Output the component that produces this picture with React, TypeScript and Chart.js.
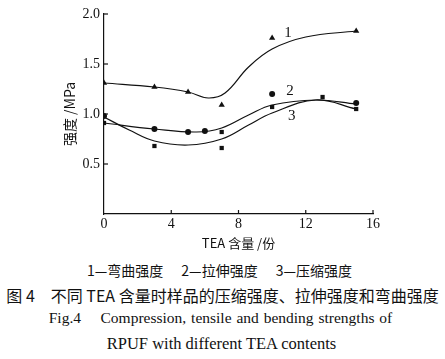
import React, { useEffect, useRef } from "react";
import { Chart, registerables } from "chart.js";

Chart.register(...registerables);

// Measured points (TEA content / strength MPa)
const bendX = [0, 3, 5, 7, 10, 15];
const bendY = [1.31, 1.27, 1.22, 1.09, 1.76, 1.83];
const tensileX = [0, 3, 5, 6, 10, 15];
const tensileY = [0.98, 0.85, 0.82, 0.83, 1.2, 1.11];
const compX = [0, 3, 7, 7, 10, 13, 15];
const compY = [0.91, 0.68, 0.82, 0.66, 1.07, 1.17, 1.05];

// Fitted curves
const fit1X = [0, 3, 5, 6.2, 7.2, 8.6, 10, 12, 15];
const fit1Y = [1.31, 1.27, 1.22, 1.16, 1.21, 1.47, 1.65, 1.77, 1.83];
const fit2X = [0, 3, 5.5, 7, 8.6, 10, 12.6, 15];
const fit2Y = [0.91, 0.85, 0.82, 0.86, 0.99, 1.09, 1.14, 1.1];
const fit3X = [0, 1.5, 3, 5, 7, 8.6, 10, 12.6, 15];
const fit3Y = [0.97, 0.84, 0.73, 0.69, 0.75, 0.89, 1.01, 1.14, 1.05];

const curveLabels = ["1", "2", "3"];
const curveLabelX = [10.95, 11.07, 11.17];
const curveLabelY = [1.81, 1.23, 0.98];

const xTicks = [0, 4, 8, 12, 16];
const yTicks = [0.5, 1.0, 1.5, 2.0];

const xTitle = "TEA 含量 /份";
const yTitle = "强度 /MPa";

const legendItems = ["1—弯曲强度", "2—拉伸强度", "3—压缩强度"];
const captionCn = "图 4　不同 TEA 含量时样品的压缩强度、拉伸强度和弯曲强度";
const captionEn1 = "Fig.4    Compression, tensile and bending strengths of";
const captionEn2 = "RPUF with different TEA contents";

const W = 445;
const CH = 255;
const INK = "#111";
const SERIF = "'Liberation Serif', 'DejaVu Serif', serif";
const CJK = "'Noto Sans CJK SC', 'Noto Sans', sans-serif";

const pts = (xs: number[], ys: number[]) => xs.map((x, i) => ({ x, y: ys[i] }));

export default function App() {
  const ref = useRef<HTMLCanvasElement | null>(null);

  useEffect(() => {
    if (!ref.current) return;

    const decorations = {
      id: "decorations",
      afterDraw(chart: any) {
        const { ctx, chartArea } = chart;
        const xs = chart.scales.x;
        const ys = chart.scales.y;
        ctx.save();
        ctx.strokeStyle = INK;
        ctx.lineWidth = 1.2;
        xTicks.forEach((v) => {
          if (v === 0) return;
          const px = xs.getPixelForValue(v);
          ctx.beginPath();
          ctx.moveTo(px, chartArea.bottom);
          ctx.lineTo(px, chartArea.bottom - 4);
          ctx.stroke();
        });
        yTicks.forEach((v) => {
          const py = ys.getPixelForValue(v);
          ctx.beginPath();
          ctx.moveTo(chartArea.left, py);
          ctx.lineTo(chartArea.left + 4, py);
          ctx.stroke();
        });
        ctx.fillStyle = INK;
        ctx.font = `15px ${SERIF}`;
        ctx.textAlign = "center";
        ctx.textBaseline = "middle";
        curveLabels.forEach((t, i) => {
          ctx.fillText(t, xs.getPixelForValue(curveLabelX[i]), ys.getPixelForValue(curveLabelY[i]));
        });
        ctx.restore();
      },
    };

    const curve = (xs: number[], ys: number[]) => ({
      type: "line" as const,
      data: pts(xs, ys),
      showLine: true,
      borderColor: INK,
      borderWidth: 1.2,
      pointRadius: 0,
      tension: 0.4,
      fill: false,
    });
    const marks = (xs: number[], ys: number[], style: string, r: number) => ({
      type: "scatter" as const,
      data: pts(xs, ys),
      showLine: false,
      pointStyle: style,
      pointRadius: r,
      backgroundColor: INK,
      borderColor: INK,
      borderWidth: 0,
    });

    const chart = new Chart(ref.current, {
      type: "scatter",
      data: {
        datasets: [
          curve(fit1X, fit1Y),
          curve(fit2X, fit2Y),
          curve(fit3X, fit3Y),
          marks(bendX, bendY, "triangle", 3.6),
          marks(tensileX, tensileY, "circle", 3),
          marks(compX, compY, "rect", 3),
        ] as any,
      },
      options: {
        responsive: false,
        animation: false,
        events: [],
        layout: { padding: { top: 14, right: 72, left: 0, bottom: 0 } },
        plugins: { legend: { display: false }, tooltip: { enabled: false }, title: { display: false } },
        scales: {
          x: {
            type: "linear",
            min: 0,
            max: 16,
            afterBuildTicks: (s: any) => {
              s.ticks = xTicks.map((v) => ({ value: v }));
            },
            afterFit: (s: any) => {
              s.height = CH - 214;
            },
            grid: { drawOnChartArea: false, drawTicks: false },
            border: { display: true, color: INK, width: 1.2 },
            ticks: { color: INK, padding: 2, font: { family: SERIF, size: 14 } },
            title: {
              display: true,
              text: xTitle,
              color: INK,
              font: { family: CJK, size: 13 },
              padding: { top: 0, bottom: 4 },
            },
          },
          y: {
            type: "linear",
            min: 0,
            max: 2,
            afterBuildTicks: (s: any) => {
              s.ticks = yTicks.map((v) => ({ value: v }));
            },
            afterFit: (s: any) => {
              s.width = 104;
            },
            grid: { drawOnChartArea: false, drawTicks: false },
            border: { display: true, color: INK, width: 1.2 },
            ticks: {
              color: INK,
              padding: 4,
              font: { family: SERIF, size: 14 },
              callback: (v: any) => Number(v).toFixed(1),
            },
            title: {
              display: true,
              text: yTitle,
              color: INK,
              font: { family: CJK, size: 14 },
              padding: { top: 61, bottom: 0 },
            },
          },
        },
      },
      plugins: [decorations],
    });
    return () => chart.destroy();
  }, []);

  const line = (top: number, font: string, size: number, content: any, extra: any = {}) => (
    <div
      style={{
        position: "absolute",
        left: 0,
        top,
        width: W,
        height: 20,
        lineHeight: "20px",
        textAlign: "center",
        whiteSpace: "pre",
        fontFamily: font,
        fontSize: size,
        color: INK,
        ...extra,
      }}
    >
      {content}
    </div>
  );

  return (
    <div style={{ position: "absolute", left: 0, top: 0, width: W, height: 359, background: "#fff", overflow: "hidden" }}>
      <canvas ref={ref} width={W} height={CH} style={{ position: "absolute", left: 0, top: 0, width: W, height: CH }} />
      {line(
        260,
        CJK,
        14,
        legendItems.map((t, i) => (
          <span key={i} style={{ marginLeft: i === 0 ? 0 : 18 }}>
            {t}
          </span>
        )),
        { left: -3 }
      )}
      {line(285, CJK, 16, captionCn)}
      {line(308, SERIF, 15.5, captionEn1, { left: -2, wordSpacing: 1 })}
      {line(334, SERIF, 16.5, captionEn2, { left: -1 })}
    </div>
  );
}
